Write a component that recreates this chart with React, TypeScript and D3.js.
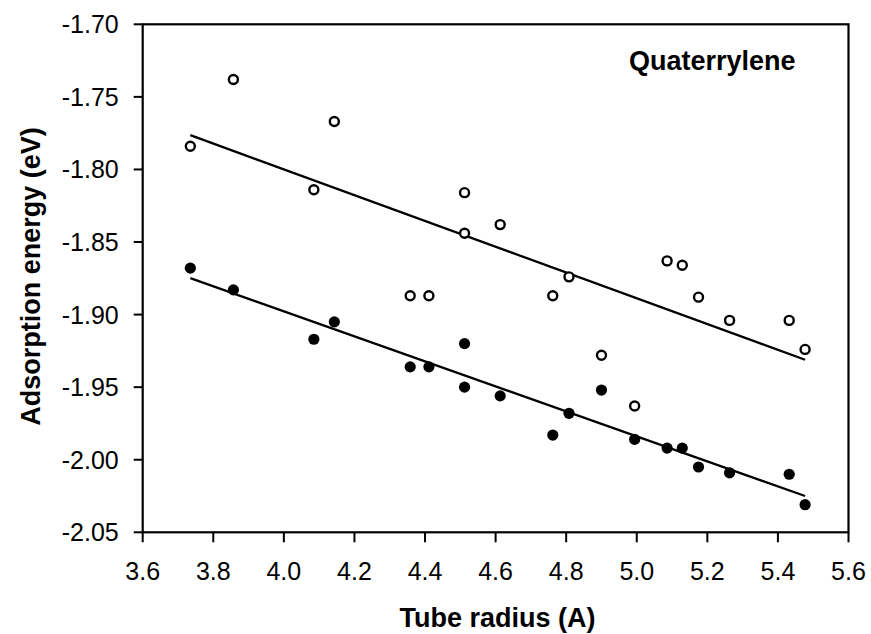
import React from "react";
import * as d3 from "d3";

const radius = [3.735, 3.857, 4.085, 4.143, 4.358, 4.411, 4.512, 4.512, 4.613, 4.762, 4.808, 4.9, 4.994, 5.086, 5.129, 5.175, 5.263, 5.432, 5.477];
const openEnergy = [-1.784, -1.738, -1.814, -1.767, -1.887, -1.887, -1.816, -1.844, -1.838, -1.887, -1.874, -1.928, -1.963, -1.863, -1.866, -1.888, -1.904, -1.904, -1.924];
const filledEnergy = [-1.868, -1.883, -1.917, -1.905, -1.936, -1.936, -1.92, -1.95, -1.956, -1.983, -1.968, -1.952, -1.986, -1.992, -1.992, -2.005, -2.009, -2.01, -2.031];
const xTicks = [3.6, 3.8, 4.0, 4.2, 4.4, 4.6, 4.8, 5.0, 5.2, 5.4, 5.6];
const yTicks = [-1.7, -1.75, -1.8, -1.85, -1.9, -1.95, -2.0, -2.05];
const title = "Quaterrylene";
const xLabel = "Tube radius (A)";
const yLabel = "Adsorption energy (eV)";

const W = 871, H = 634;
const L = 142.7, R = 848.5, T = 24.3, B = 532.3;

function fit(xs: number[], ys: number[]) {
  const mx = d3.mean(xs)!, my = d3.mean(ys)!;
  let sxy = 0, sxx = 0;
  xs.forEach((x, i) => { sxy += (x - mx) * (ys[i] - my); sxx += (x - mx) ** 2; });
  const b = sxy / sxx;
  return (x: number) => my + b * (x - mx);
}

export default function App() {
  const x = d3.scaleLinear().domain([3.6, 5.6]).range([L, R]);
  const y = d3.scaleLinear().domain([-2.05, -1.7]).range([B, T]);
  const font = "'Liberation Sans', Arial, sans-serif";
  const x0 = d3.min(radius)!, x1 = d3.max(radius)!;
  const fo = fit(radius, openEnergy), ff = fit(radius, filledEnergy);
  const line = d3.line<[number, number]>().x(d => x(d[0])).y(d => y(d[1]));
  return (
    <svg width={W} height={H} style={{ position: "absolute", left: 0, top: 0, background: "#fff" }} fontFamily={font}>
      <rect x={0} y={0} width={W} height={H} fill="#fff" />
      <rect x={L} y={T} width={R - L} height={B - T} fill="none" stroke="#000" strokeWidth={2.2} />
      {yTicks.map(t => (
        <g key={"y" + t}>
          <line x1={L - 9} x2={L} y1={y(t)} y2={y(t)} stroke="#000" strokeWidth={2} />
          <text x={L - 24} y={y(t)} dy="0.36em" textAnchor="end" fontSize={25}>{d3.format(".2f")(t).replace("−", "-")}</text>
        </g>
      ))}
      {xTicks.map(t => (
        <g key={"x" + t}>
          <line x1={x(t)} x2={x(t)} y1={B} y2={B + 10} stroke="#000" strokeWidth={2} />
          <text x={x(t)} y={580} textAnchor="middle" fontSize={25}>{d3.format(".1f")(t)}</text>
        </g>
      ))}
      <path d={line([[x0, fo(x0)], [x1, fo(x1)]])!} stroke="#000" strokeWidth={2.3} fill="none" />
      <path d={line([[x0, ff(x0)], [x1, ff(x1)]])!} stroke="#000" strokeWidth={2.3} fill="none" />
      {radius.map((r, i) => (
        <circle key={"o" + i} cx={x(r)} cy={y(openEnergy[i])} r={4.5} fill="#fff" stroke="#000" strokeWidth={2.4} />
      ))}
      {radius.map((r, i) => (
        <circle key={"f" + i} cx={x(r)} cy={y(filledEnergy[i])} r={5.6} fill="#000" />
      ))}
      <text x={629} y={70} fontSize={27} fontWeight="bold">{title}</text>
      <text x={497.5} y={627} textAnchor="middle" fontSize={27} fontWeight="bold">{xLabel}</text>
      <text transform="translate(40,276.5) rotate(-90)" textAnchor="middle" fontSize={27} fontWeight="bold">{yLabel}</text>
    </svg>
  );
}
